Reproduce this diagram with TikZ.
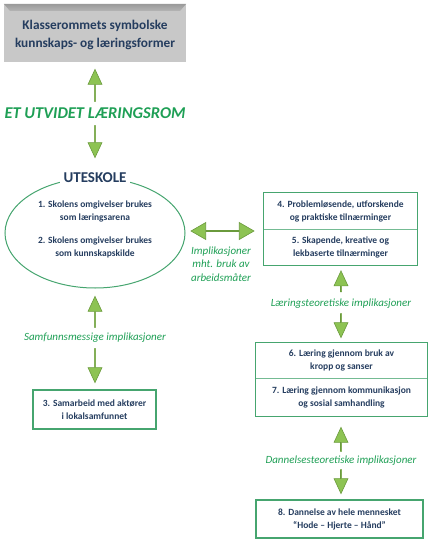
\documentclass[tikz,border=0pt]{standalone}
\usepackage{fontspec}
\setmainfont{Carlito}
\usetikzlibrary{positioning, calc, shapes.arrows, shapes.geometric}
\definecolor{cnavy}{HTML}{253D5F}
\definecolor{cgreen}{HTML}{46A56F}
\definecolor{clabel}{HTML}{1E9F55}
\definecolor{carrow}{HTML}{8DC353}
\definecolor{carrowdark}{HTML}{6A9A3C}
\definecolor{cgray}{HTML}{C8C8C8}
\definecolor{cgraydark}{HTML}{9A9A9A}

\begin{document}
\begin{tikzpicture}[x=1pt, y=-1pt,
  boxtext/.style={font=\fontsize{9.5}{13}\selectfont\bfseries, text=cnavy, align=center},
  cell/.style={boxtext, minimum height=36pt, inner sep=0pt},
  frame/.style={draw=cgreen, line width=1.3pt},
  divider/.style={draw=cgreen!75, line width=0.8pt},
  italiclabel/.style={font=\fontsize{11}{13.5}\selectfont\itshape, text=clabel, align=center},
  blockarrow/.style={single arrow, draw=carrowdark, fill=carrow, line width=0.6pt,
    inner sep=0pt, minimum width=14pt, single arrow head extend=3.5pt, single arrow tip angle=50},
  uparrow/.style={blockarrow, shape border rotate=90},
  downarrow/.style={blockarrow, shape border rotate=270}
]
  \useasboundingbox (0,0) rectangle (430,546);

  % classroom box with bevelled top
  \node[fill=cgray, minimum width=182pt, minimum height=58pt, inner sep=0pt] (klasserom) at (95,33) {};
  \shade[top color=cgraydark, bottom color=cgray!90!black]
    (klasserom.north west) -- (klasserom.north east) -- ++(-6,7) -- ($(klasserom.north west)+(6,7)$) -- cycle;
  \node[font=\fontsize{13.3}{18}\selectfont\bfseries, text=cnavy, align=center] (klassetekst) at (95,35)
    {Klasserommets symbolske\\kunnskaps- og læringsformer};

  \node[uparrow, minimum height=32pt] (pil1) at (95,86) {};
  \node[font=\fontsize{16.5}{18}\selectfont\bfseries\itshape, text=clabel] (laeringsrom) at (95,113) {ET UTVIDET LÆRINGSROM};
  \node[downarrow, minimum height=32pt] (pil2) at (95,141) {};

  % uteskole ellipse
  \node[ellipse, draw=cgreen, line width=1pt, minimum width=180pt, minimum height=110pt] (uteskole) at (95,233) {};
  \node[fill=white, inner xsep=4pt, font=\fontsize{15}{16}\selectfont\bfseries, text=cnavy] (utetittel) at (uteskole.north) {UTESKOLE};
  \node[boxtext] (s1) at (95,211) {1. Skolens omgivelser brukes\\som læringsarena};
  \node[boxtext] (s2) at (95,247) {2. Skolens omgivelser brukes\\som kunnskapskilde};

  \node[uparrow, minimum height=31pt] (pil3) at (95,312.5) {};
  \node[italiclabel] (samfunn) at (95,338) {Samfunnsmessige implikasjoner};
  \node[downarrow, minimum height=34pt] (pil4) at (95,365) {};
  \node[boxtext, frame, minimum width=123pt, minimum height=39pt, inner sep=0pt] (s3) at (94.5,409.5)
    {3. Samarbeid med aktører\\i lokalsamfunnet};

  % working methods
  \node[double arrow, draw=carrowdark, fill=carrow, line width=0.6pt, inner sep=0pt,
    minimum height=63pt, minimum width=17pt, double arrow head extend=5pt, double arrow tip angle=60] (pil5) at (222.5,231) {};
  \node[italiclabel] (arbeid) at (221,264) {Implikasjoner\\mht. bruk av\\arbeidsmåter};

  \node[cell, minimum width=153pt] (s4) at (340.5,211) {4. Problemløsende, utforskende\\og praktiske tilnærminger};
  \node[cell, minimum width=153pt, below=0pt of s4] (s5) {5. Skapende, kreative og\\lekbaserte tilnærminger};
  \draw[divider] (s4.south west) -- (s4.south east);
  \draw[frame] (s4.north west) rectangle (s5.south east);

  \node[uparrow, minimum height=21pt] (pil6) at (341,282) {};
  \node[italiclabel] (laering) at (341,304) {Læringsteoretiske implikasjoner};
  \node[downarrow, minimum height=24pt] (pil7) at (341,325) {};

  \node[cell, minimum width=171pt, minimum height=35pt] (s6) at (341.5,360.5) {6. Læring gjennom bruk av\\kropp og sanser};
  \node[cell, minimum width=171pt, minimum height=38pt, below=0pt of s6] (s7) {7. Læring gjennom kommunikasjon\\og sosial samhandling};
  \draw[divider] (s6.south west) -- (s6.south east);
  \draw[frame] (s6.north west) rectangle (s7.south east);

  \node[uparrow, minimum height=24pt] (pil8) at (341,440) {};
  \node[italiclabel] (dannelse) at (341,461) {Dannelsesteoretiske implikasjoner};
  \node[downarrow, minimum height=24pt] (pil9) at (341,481) {};

  \node[boxtext, frame, minimum width=167pt, minimum height=38pt, inner sep=0pt] (s8) at (339.5,519)
    {8. Dannelse av hele mennesket\\“Hode – Hjerte – Hånd”};
\end{tikzpicture}
\end{document}
